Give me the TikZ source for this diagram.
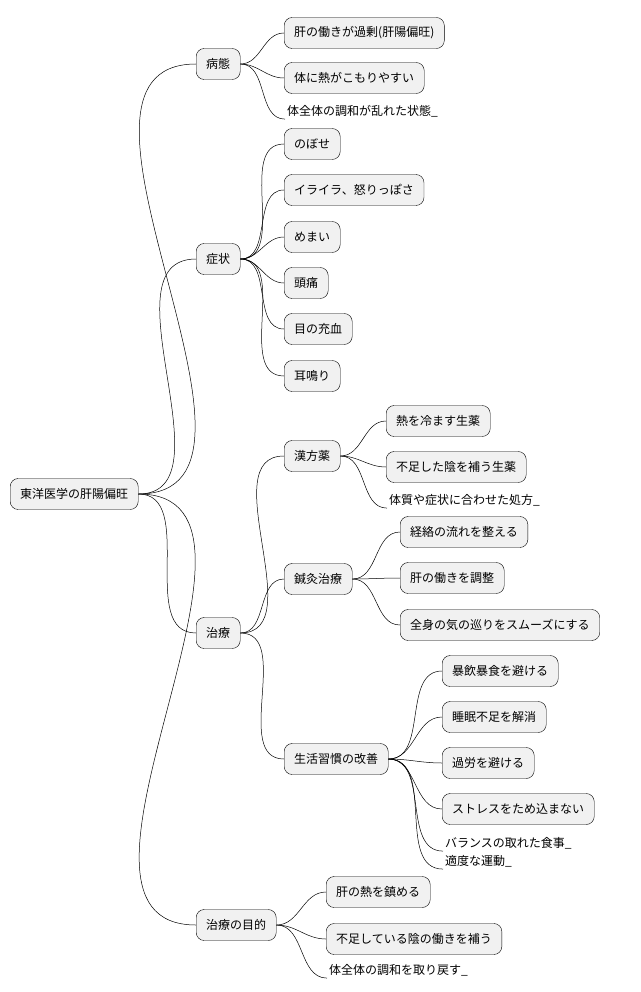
\documentclass[tikz,border=0pt]{standalone}
\usepackage{fontspec}
\setmainfont{Noto Sans CJK JP}
\usetikzlibrary{positioning}
\definecolor{boxfill}{HTML}{F1F1F1}
\tikzset{
  topic/.style={draw=black,fill=boxfill,rounded corners=8pt,anchor=west,minimum height=31pt,inner xsep=10pt,font=\fontsize{12}{12}\selectfont},
  bare/.style={anchor=west,inner sep=2pt,font=\fontsize{12}{12}\selectfont},
  link/.style={draw=black,line width=0.5pt}
}
\begin{document}
\begin{tikzpicture}[x=1pt,y=-1pt]
\useasboundingbox (0,0) rectangle (640,992);
% root and first level
\node [topic] (root) at (10,494) {東洋医学の肝陽偏旺};
\node [topic] (byotai) at (196,64) {病態};
\node [topic] (shojo) at (196,259) {症状};
\node [topic] (chiryo) at (196,633) {治療};
\node [topic] (mokuteki) at (196,925) {治療の目的};
% 病態
\node [topic] (kaseki) at (284,33) {肝の働きが過剰(肝陽偏旺)};
\node [topic] (netsu) at (284,78) {体に熱がこもりやすい};
\node [bare] (chowa) at (285,111) {体全体の調和が乱れた状態\_};
% 症状
\node [topic] (nobose) at (284,144) {のぼせ};
\node [topic] (iraira) at (284,190) {イライラ、怒りっぽさ};
\node [topic] (memai) at (284,237) {めまい};
\node [topic] (zutsu) at (284,283) {頭痛};
\node [topic] (juketsu) at (284,329) {目の充血};
\node [topic] (miminari) at (284,376) {耳鳴り};
% 治療
\node [topic] (kampo) at (284,456) {漢方薬};
\node [topic] (shinkyu) at (284,579) {鍼灸治療};
\node [topic] (seikatsu) at (284,759) {生活習慣の改善};
\node [topic] (hiyasu) at (386,421) {熱を冷ます生薬};
\node [topic] (oginau) at (386,467) {不足した陰を補う生薬};
\node [bare] (shoho) at (387,500) {体質や症状に合わせた処方\_};
\node [topic] (keiraku) at (400,532) {経絡の流れを整える};
\node [topic] (chosei) at (400,578) {肝の働きを調整};
\node [topic] (meguri) at (400,625) {全身の気の巡りをスムーズにする};
\node [topic] (boin) at (442,671) {暴飲暴食を避ける};
\node [topic] (suimin) at (442,717) {睡眠不足を解消};
\node [topic] (karo) at (442,763) {過労を避ける};
\node [topic] (stress) at (442,809) {ストレスをため込まない};
\node [bare] (shokuji) at (443,843) {バランスの取れた食事\_};
\node [bare] (undo) at (443,861) {適度な運動\_};
% 治療の目的
\node [topic] (shizumeru) at (326,892) {肝の熱を鎮める};
\node [topic] (inhataraki) at (326,939) {不足している陰の働きを補う};
\node [bare] (torimodosu) at (327,970) {体全体の調和を取り戻す\_};
% connectors
\foreach \p/\c in {root/byotai,root/shojo,root/chiryo,root/mokuteki,
  byotai/kaseki,byotai/netsu,
  shojo/nobose,shojo/iraira,shojo/memai,shojo/zutsu,shojo/juketsu,shojo/miminari,
  chiryo/kampo,chiryo/shinkyu,chiryo/seikatsu,
  kampo/hiyasu,kampo/oginau,
  shinkyu/keiraku,shinkyu/chosei,shinkyu/meguri,
  seikatsu/boin,seikatsu/suimin,seikatsu/karo,seikatsu/stress,
  mokuteki/shizumeru,mokuteki/inhataraki}
  \draw [link] (\p.east) to[out=0,in=180] (\c.west);
\foreach \p/\c in {byotai/chowa,kampo/shoho,seikatsu/shokuji,seikatsu/undo,mokuteki/torimodosu}
  \draw [link] (\p.east) to[out=0,in=180] (\c.south west);
\end{tikzpicture}
\end{document}
